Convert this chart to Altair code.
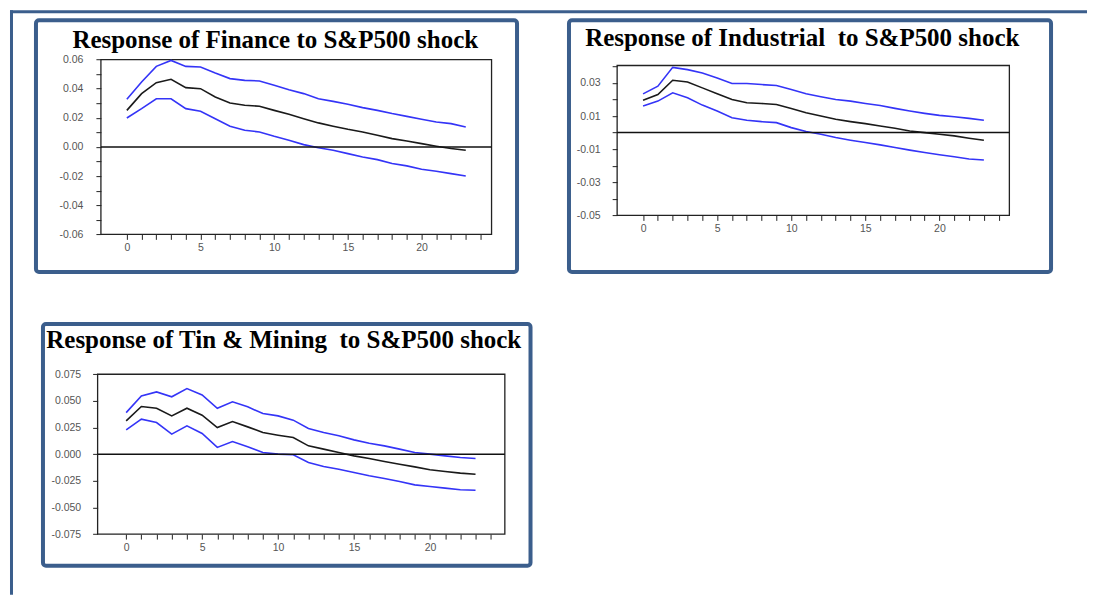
import altair as alt
import pandas as pd

periods = list(range(24))

fin_upper = [0.0327, 0.0446, 0.0553, 0.0594, 0.0553, 0.0549, 0.0507, 0.0469, 0.0457, 0.0453, 0.0423, 0.0393,
             0.0366, 0.0331, 0.0313, 0.0293, 0.0270, 0.0251, 0.0229, 0.0210, 0.0190, 0.0171, 0.0160, 0.0137]
fin_mid = [0.0251, 0.0366, 0.0441, 0.0464, 0.0407, 0.0400, 0.0343, 0.0302, 0.0286, 0.0279, 0.0251, 0.0224,
           0.0194, 0.0165, 0.0142, 0.0121, 0.0103, 0.0080, 0.0057, 0.0041, 0.0023, 0.0005, -0.0011, -0.0023]
fin_lower = [0.0199, 0.0263, 0.0331, 0.0331, 0.0263, 0.0245, 0.0194, 0.0142, 0.0114, 0.0103, 0.0073, 0.0046,
             0.0016, -0.0005, -0.0023, -0.0046, -0.0069, -0.0087, -0.0114, -0.0130, -0.0153, -0.0167, -0.0183, -0.0199]

ind_upper = [0.0234, 0.0280, 0.0394, 0.0380, 0.0360, 0.0330, 0.0296, 0.0296, 0.0290, 0.0284, 0.0260, 0.0234,
             0.0216, 0.0200, 0.0190, 0.0176, 0.0164, 0.0146, 0.0130, 0.0116, 0.0104, 0.0096, 0.0086, 0.0074]
ind_mid = [0.0196, 0.0230, 0.0316, 0.0306, 0.0270, 0.0234, 0.0200, 0.0180, 0.0176, 0.0170, 0.0146, 0.0120,
           0.0100, 0.0080, 0.0066, 0.0054, 0.0040, 0.0026, 0.0010, 0.0000, -0.0010, -0.0020, -0.0034, -0.0046]
ind_lower = [0.0160, 0.0190, 0.0240, 0.0210, 0.0166, 0.0130, 0.0090, 0.0074, 0.0066, 0.0060, 0.0030, 0.0006,
             -0.0010, -0.0030, -0.0046, -0.0060, -0.0074, -0.0090, -0.0106, -0.0120, -0.0134, -0.0146, -0.0160, -0.0166]

tin_upper = [0.0390, 0.0547, 0.0584, 0.0538, 0.0616, 0.0556, 0.0431, 0.0491, 0.0444, 0.0381, 0.0359, 0.0319,
             0.0241, 0.0203, 0.0172, 0.0134, 0.0103, 0.0078, 0.0047, 0.0016, 0.0000, -0.0016, -0.0031, -0.0041]
tin_mid = [0.0313, 0.0447, 0.0431, 0.0359, 0.0431, 0.0366, 0.0250, 0.0306, 0.0256, 0.0203, 0.0178, 0.0156,
           0.0078, 0.0047, 0.0016, -0.0016, -0.0041, -0.0069, -0.0094, -0.0119, -0.0147, -0.0163, -0.0178, -0.0188]
tin_lower = [0.0228, 0.0328, 0.0297, 0.0188, 0.0266, 0.0194, 0.0063, 0.0119, 0.0069, 0.0016, 0.0000, -0.0006,
             -0.0078, -0.0116, -0.0141, -0.0172, -0.0203, -0.0228, -0.0256, -0.0288, -0.0303, -0.0319, -0.0334, -0.0338]

titles = ["Response of Finance to S&P500 shock",
          "Response of Industrial\u00a0 to S&P500 shock",
          "Response of Tin & Mining\u00a0 to S&P500 shock"]

FRAME = "#3B5E8C"
BLUE = "#3434F7"
ONE = alt.Data(values=[{"k": 1}])


def long_df(upper, mid, lower):
    rows = []
    for name, arr in (("upper", upper), ("mid", mid), ("lower", lower)):
        for h, v in zip(periods, arr):
            rows.append({"h": h, "v": v, "band": name})
    return pd.DataFrame(rows)


def panel(df, title, W, H, frame, box, title_pos, xdom, ydom, yvals, ylabel_expr, ylabpad,
          top_line=None, left_line=None):
    L, R, T, B = box
    xs = alt.Scale(domain=xdom, range=[L, R], nice=False, zero=False)
    ys = alt.Scale(domain=ydom, range=[B, T], nice=False, zero=False)
    xaxis = alt.Axis(values=list(range(0, 25)), labelExpr="datum.value % 5 === 0 ? '' + datum.value : ''",
                     offset=-(H - B), tickSize=5, tickColor="#222", domain=False, grid=False,
                     labelFont="Liberation Sans", labelFontSize=10.5, labelColor="#555", labelPadding=3,
                     title=None)
    yaxis = alt.Axis(values=yvals, labelExpr=ylabel_expr, offset=-L, tickSize=5, tickColor="#222",
                     domain=False, grid=False, labelFont="Liberation Sans", labelFontSize=10.5,
                     labelColor="#555", labelPadding=ylabpad, title=None)

    layers = []
    fx1, fx2, fy1, fy2 = frame
    layers.append(alt.Chart(ONE).mark_rect(filled=False, stroke=FRAME, strokeWidth=4, cornerRadius=3).encode(
        x=alt.value(fx1), x2=alt.value(fx2), y=alt.value(fy1), y2=alt.value(fy2)))
    if top_line is not None:
        layers.append(alt.Chart(ONE).mark_rule(color=FRAME, strokeWidth=3).encode(
            x=alt.value(top_line[0]), x2=alt.value(top_line[1]), y=alt.value(1.5)))
    if left_line is not None:
        layers.append(alt.Chart(ONE).mark_rule(color=FRAME, strokeWidth=3).encode(
            x=alt.value(1.5), y=alt.value(left_line[0]), y2=alt.value(left_line[1])))
    layers.append(alt.Chart(ONE).mark_rect(filled=False, stroke="#222", strokeWidth=1.3).encode(
        x=alt.value(L), x2=alt.value(R), y=alt.value(T), y2=alt.value(B)))
    layers.append(alt.Chart(df).mark_line(strokeWidth=1.6).encode(
        x=alt.X("h:Q", scale=xs, axis=xaxis),
        y=alt.Y("v:Q", scale=ys, axis=yaxis),
        color=alt.Color("band:N", scale=alt.Scale(domain=["upper", "mid", "lower"],
                                                   range=[BLUE, "#1a1a1a", BLUE]), legend=None),
        detail="band:N"))
    layers.append(alt.Chart(ONE).mark_rule(color="#111", strokeWidth=1.5).encode(
        y=alt.YDatum(0, type="quantitative", scale=ys, axis=yaxis),
        x=alt.value(L), x2=alt.value(R)))
    layers.append(alt.Chart(ONE).mark_text(font="Liberation Serif", fontWeight="bold", fontSize=25,
                                           align="center", baseline="alphabetic", color="black").encode(
        x=alt.value(title_pos[0]), y=alt.value(title_pos[1]), text=alt.value(title)))
    return alt.layer(*layers).properties(width=W, height=H)


neg = "(datum.value < 0 ? '-' : '') + format(abs(datum.value), '{f}')"
p1 = panel(long_df(fin_upper, fin_mid, fin_lower), titles[0], 545, 300,
           (26, 507.5, 10, 262), (91, 482, 49.3, 224.3), (265.5, 37.5),
           [-1.76, 24.75], [-0.06, 0.06],
           [round(-0.06 + 0.01 * i, 2) for i in range(13)],
           "abs(round(datum.value*100)) % 2 === 0 ? " + neg.format(f=".2f") + " : ''", 13,
           top_line=(0, 1078), left_line=(0, 300))
p2 = panel(long_df(ind_upper, ind_mid, ind_lower), titles[1], 535, 300,
           (14.5, 497, 10, 262), (62.7, 455.3, 55.3, 205.3), (248, 35.5),
           [-1.75, 24.72], [-0.05, 0.0405],
           [round(-0.05 + 0.01 * i, 2) for i in range(10)],
           "abs(round(datum.value*100)) % 2 === 1 ? " + neg.format(f=".2f") + " : ''", 12)
p3 = panel(long_df(tin_upper, tin_mid, tin_lower), titles[2], 545, 285,
           (33, 521, 14, 256), (87.7, 495.3, 64.3, 224.3), (274, 38.5),
           [-1.88, 24.93], [-0.075, 0.075],
           [-0.075, -0.05, -0.025, 0.0, 0.025, 0.05, 0.075],
           neg.format(f=".3f"), 12,
           left_line=(0, 285))

chart = alt.concat(p1, p2, p3, columns=2, spacing=0, bounds="flush").properties(
    padding=0
).configure_view(strokeWidth=0)

chart.save("out.html", embed_options={"renderer": "svg", "actions": False})
